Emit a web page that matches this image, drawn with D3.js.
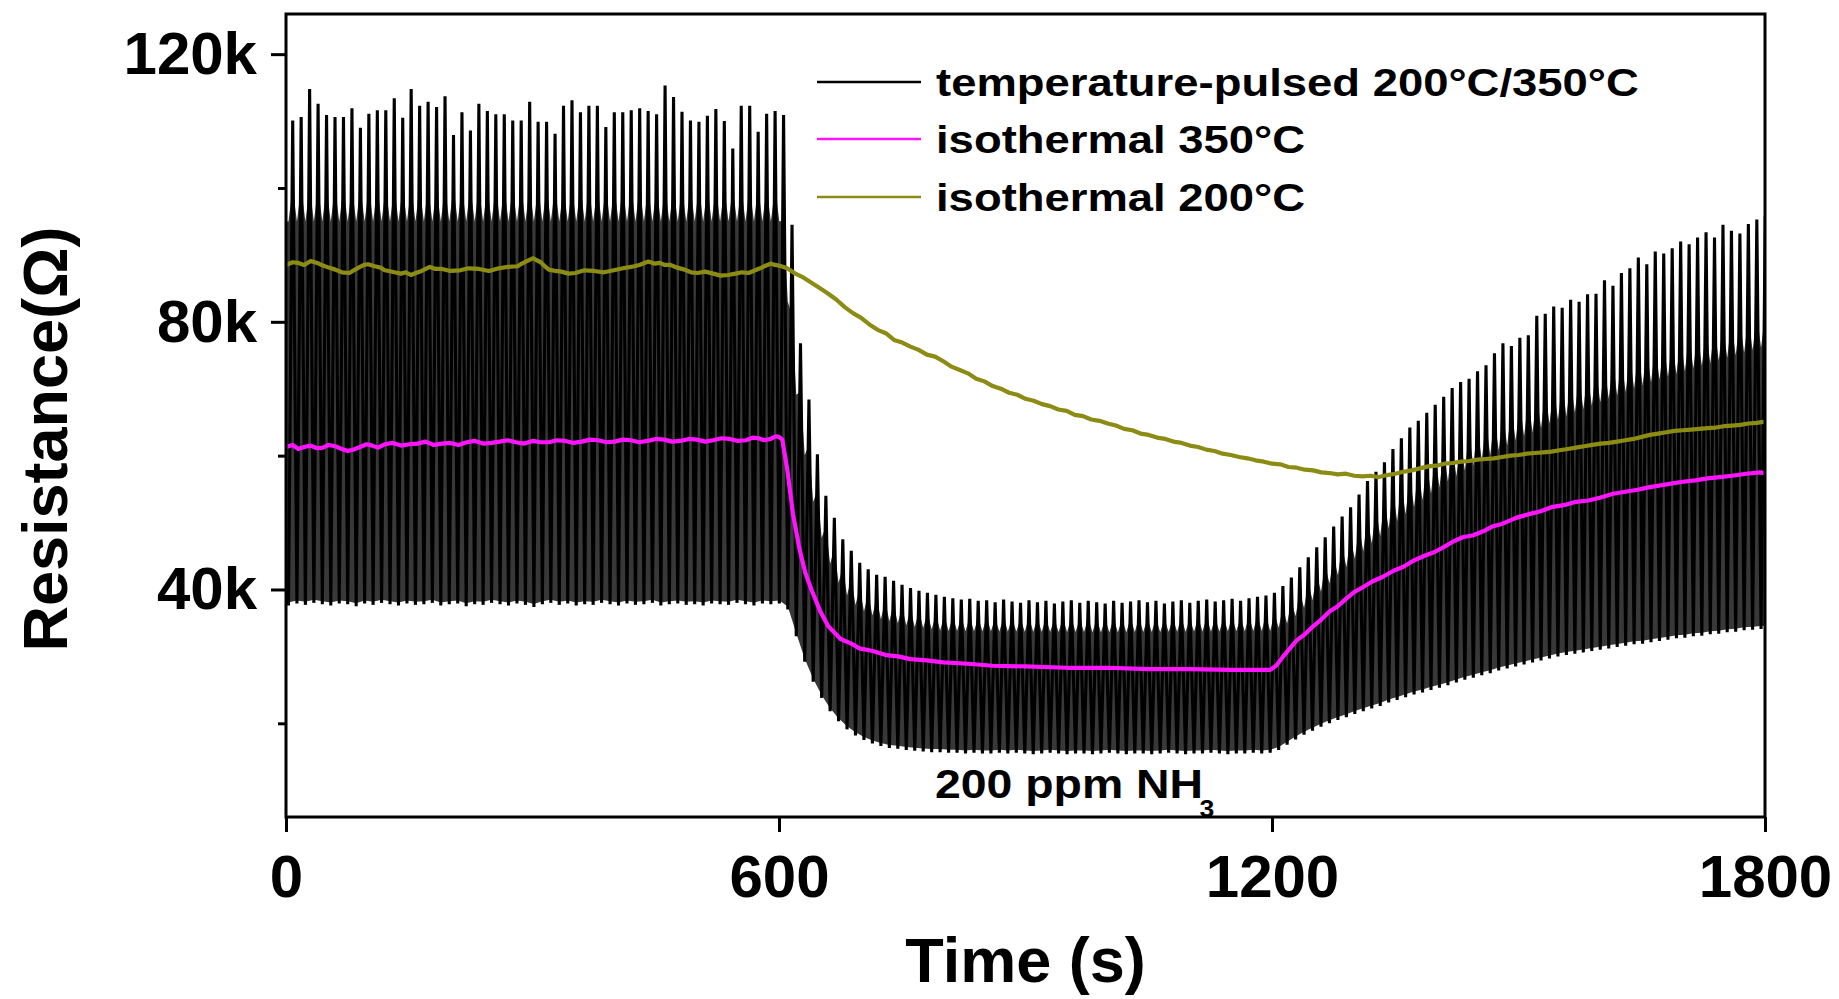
<!DOCTYPE html>
<html>
<head>
<meta charset="utf-8">
<script src="https://cdn.jsdelivr.net/npm/d3@7"></script>
<style>
  html, body { margin: 0; padding: 0; background: #ffffff; }
  svg text { font-family: "Liberation Sans", Arial, Helvetica, sans-serif; font-weight: bold; fill: #000; }
</style>
</head>
<body>
<svg id="chart" width="1839" height="999"></svg>
<script>
// ---------------- data (resistance in kΩ, time in s) ----------------
const xTicks = [0, 600, 1200, 1800];
const yMajorTicks = [40, 80, 120];
const yMinorTicks = [20, 60, 100];
const seriesNames = ["temperature-pulsed 200°C/350°C", "isothermal 350°C", "isothermal 200°C"];
const seriesColors = ["#000000", "#ff14ff", "#8c8c14"];

// temperature-pulsed signal: one trough and one peak per heating cycle
const pulseStart = 3;      // time of first trough (s)
const pulsePeriod = 10.3;  // cycle length (s)
const pulseHigh = [
  110.1, 110.6, 114.8, 112.6, 110.9, 110.6, 110.6, 111.9, 109.0, 111.1,
  111.6, 111.6, 113.4, 110.5, 114.8, 112.3, 112.9, 112.1, 113.7, 107.9,
  111.3, 108.6, 112.6, 111.5, 111.0, 111.0, 110.1, 110.1, 112.9, 109.9,
  109.9, 108.1, 112.3, 113.1, 111.3, 112.3, 112.3, 109.1, 111.3, 111.3,
  111.6, 111.9, 111.5, 111.0, 115.3, 113.6, 111.4, 110.1, 109.9, 110.8,
  111.8, 110.0, 105.9, 112.3, 112.3, 108.4, 111.1, 111.5, 110.9,
  94.5, 76.8, 68.4, 60.2, 54.0, 50.7, 47.5, 45.8, 44.0, 43.0, 42.2, 41.9, 41.3,
  40.7, 40.2, 39.8, 39.5, 39.2, 38.9, 38.7, 38.5, 38.6, 38.3,
  38.4, 38.1, 38.5, 38.2, 38.0, 38.4, 38.1, 38.3, 37.9, 38.2,
  38.4, 38.0, 38.3, 38.1, 37.9, 38.3, 38.0, 38.2, 38.4, 38.1,
  38.3, 37.9, 38.2, 38.4, 38.0, 38.3, 38.5, 38.2, 38.4, 38.6,
  38.3, 38.7, 38.9, 39.1,
  39.5, 40.5, 41.8, 43.3, 44.8, 46.3, 47.8, 49.4, 50.9, 52.3,
  54.2, 56.2, 57.6, 59.0, 61.0, 62.6, 64.2, 65.2, 66.4, 67.6,
  68.8, 70.1, 71.0, 71.5, 72.6, 73.5, 75.3, 76.8, 76.4, 77.6,
  78.0, 80.9, 81.2, 82.3, 82.1, 83.3, 83.0, 84.1, 84.2, 86.2,
  85.4, 87.3, 88.0, 89.6, 88.6, 90.5, 90.2, 91.0, 92.0, 91.6,
  92.6, 93.4, 92.6, 94.5, 93.6, 93.2, 94.6, 95.3, 95.8
];
const pulseLow = [
  37.6, 37.9, 37.7, 38.0, 37.8, 37.6, 37.9, 37.8, 37.5, 37.9,
  37.7, 38.0, 37.8, 37.6, 37.9, 37.7, 37.8, 38.0, 37.6, 37.8,
  37.9, 37.5, 37.8, 37.7, 38.0, 37.8, 37.6, 37.9, 37.7, 37.4,
  37.8, 38.0, 37.7, 37.9, 37.6, 37.8, 37.7, 38.0, 37.8, 37.6,
  37.9, 37.7, 37.8, 38.0, 37.6, 37.8, 37.9, 37.7, 37.8, 37.6,
  37.9, 37.8, 37.7, 38.0, 37.8, 37.6, 37.9, 37.8, 37.9,
  37.0, 33.0, 29.2, 26.2, 23.8, 21.8, 20.3, 19.1, 18.2, 17.5, 17.0, 16.6, 16.3,
  16.2, 16.0, 15.9, 15.8, 15.7, 15.7, 15.6, 15.6, 15.5, 15.6,
  15.5, 15.5, 15.6, 15.5, 15.6, 15.5, 15.4, 15.5, 15.6, 15.5,
  15.4, 15.5, 15.5, 15.4, 15.5, 15.6, 15.5, 15.4, 15.5, 15.5,
  15.4, 15.5, 15.6, 15.5, 15.4, 15.5, 15.5, 15.6, 15.5, 15.4,
  15.5, 15.5, 15.6, 15.5, 15.6,
  16.0, 16.8, 17.6, 18.3, 18.9, 19.5, 20.0, 20.5, 20.9, 21.4,
  21.8, 22.2, 22.6, 23.1, 23.5, 23.9, 24.3, 24.6, 25.0, 25.3,
  25.7, 26.1, 26.5, 26.8, 27.2, 27.5, 27.9, 28.2, 28.5, 28.8,
  29.1, 29.4, 29.7, 30.0, 30.2, 30.4, 30.6, 30.8, 31.0, 31.2,
  31.4, 31.6, 31.8, 31.9, 32.1, 32.3, 32.5, 32.7, 32.8, 33.0,
  33.1, 33.3, 33.4, 33.6, 33.7, 33.9, 34.0, 34.1, 34.2
];
// upper edge of the densely drawn (solid-looking) part of the pulsed trace
const bodyTime = [0, 300, 602, 610, 620, 630, 640, 650, 660, 670, 680, 692, 705, 725, 760, 800,
  1000, 1200, 1220, 1250, 1300, 1350, 1400, 1450, 1500, 1550, 1600, 1650, 1700, 1750, 1806];
const bodyTop = [95, 95, 95, 84, 70, 61, 54, 48.5, 44.5, 41.5, 39.5, 37.8, 36.6, 35.5, 34.5, 33.8,
  33.6, 33.8, 35, 38.5, 44.5, 50, 55, 59, 62.5, 65.5, 68, 70.5, 72.5, 74.5, 76.5];

// isothermal 350 °C  [time, kΩ]
const iso350Points = [
  [0,61.3],[8,61.6],[15,61.0],[22,61.3],[30,61.5],[38,61.1],[45,61.2],[52,61.6],[60,61.4],[68,61.0],[75,60.7],[82,60.9],[90,61.3],[98,61.7],[105,61.5],[112,61.2],[120,61.7],[130,61.9],[140,61.5],[150,61.7],
  [160,61.8],[170,62.1],[180,61.6],[190,61.8],[200,61.9],[210,61.6],[220,62.0],[230,62.2],[240,61.8],[250,61.9],[260,62.1],[270,62.3],[280,62.0],[290,61.8],[300,62.2],[310,62.0],[320,62.0],[330,62.3],[340,62.2],[350,61.9],
  [360,62.1],[370,62.4],[380,62.3],[390,62.0],[400,62.1],[410,62.4],[420,62.3],[430,62.0],[440,62.2],[450,62.5],[460,62.4],[470,62.1],[480,62.2],[490,62.5],[500,62.4],[510,62.1],[520,62.3],[530,62.6],[540,62.5],[550,62.2],
  [560,62.3],[568,62.7],[575,62.6],[582,62.3],[590,62.5],[596,62.9],[600,62.8],[604,62.4],[610,58.0],[617,51.3],[625,46.0],[632,42.5],[640,39.8],
  [650,36.8],[660,34.5],[675,32.6],[688,31.9],[698,31.2],[714,30.8],[730,30.2],[745,30.0],[760,29.6],[780,29.4],[800,29.1],[830,28.9],[860,28.6],[900,28.5],[950,28.3],[1000,28.3],[1050,28.1],[1100,28.1],
  [1150,28.0],[1198,28.0],[1205,28.6],[1215,30.2],[1230,32.4],[1240,33.3],[1250,34.5],[1260,35.5],[1270,36.7],[1280,37.5],[1290,38.6],[1300,39.6],[1310,40.3],[1322,41.2],[1335,41.9],[1348,42.8],
  [1360,43.4],[1372,44.3],[1385,45.0],[1398,45.6],[1410,46.4],[1421,47.2],[1432,47.8],[1445,48.1],[1457,48.7],[1468,49.4],[1480,49.8],[1497,50.7],[1514,51.3],[1527,51.7],[1540,52.3],[1555,52.6],[1570,53.1],[1585,53.3],[1599,53.7],[1615,54.3],
  [1630,54.6],[1645,54.9],[1660,55.3],[1680,55.7],[1700,56.1],[1715,56.3],[1730,56.6],[1745,56.8],[1760,57.0],[1777,57.3],[1794,57.5],[1800,57.4]
];

// isothermal 200 °C  [time, kΩ]
const iso200Points = [
  [0,88.5],[8,88.9],[15,88.8],[22,88.5],[30,89.1],[38,88.8],[45,88.4],[52,88.1],[60,87.8],[68,87.4],[77,87.3],[84,87.8],[90,88.2],[95,88.5],[100,88.6],[108,88.3],[115,88.1],[120,87.7],[125,87.6],[132,87.4],
  [140,87.2],[146,87.4],[152,87.0],[158,87.3],[165,87.6],[170,87.9],[175,88.2],[182,87.9],[190,87.9],[200,87.6],[212,87.7],[222,88.0],[235,87.9],[247,87.6],[259,88.0],[270,88.2],[282,88.3],[287,88.7],[292,89.0],[297,89.3],
  [301,89.5],[305,89.2],[310,88.9],[315,88.3],[320,87.8],[328,87.6],[335,87.5],[344,87.2],[352,87.3],[363,87.7],[375,87.6],[387,87.4],[399,87.7],[410,88.0],[420,88.2],[430,88.5],[441,89.0],[448,88.7],[455,88.8],[461,88.5],
  [468,88.5],[476,88.1],[485,87.8],[493,87.4],[501,87.3],[510,87.5],[520,87.2],[529,86.9],[538,87.0],[547,87.2],[555,87.4],[563,87.3],[571,87.7],[577,88.0],[582,88.3],[586,88.5],[590,88.7],[595,88.5],[600,88.4],
  [610,88.0],[620,87.2],[630,86.6],[640,85.8],[650,85.0],[660,84.2],[670,83.3],[680,82.2],[690,81.3],[700,80.6],
  [710,79.6],[720,78.8],[730,78.3],[740,77.3],[750,76.9],[760,76.3],[770,75.8],[780,75.1],[790,74.8],[800,74.1],
  [810,73.3],[820,72.8],[830,72.3],[840,71.5],[850,71.1],[860,70.4],[870,70.0],[880,69.4],[890,69.1],[900,68.5],
  [910,68.2],[920,67.7],[930,67.4],[940,66.9],[950,66.7],[960,66.1],[970,65.9],[980,65.4],[990,65.2],[1000,64.8],
  [1010,64.5],[1020,64.0],[1030,63.8],[1040,63.3],[1050,63.1],[1060,62.7],[1070,62.5],[1080,62.1],[1090,61.9],[1100,61.5],
  [1110,61.3],[1120,60.9],[1130,60.7],[1140,60.3],[1150,60.1],[1160,59.8],[1170,59.6],[1180,59.3],[1190,59.1],[1200,58.8],
  [1210,58.7],[1220,58.3],[1230,58.2],[1240,57.9],[1250,57.8],[1260,57.5],[1270,57.4],[1280,57.2],[1290,57.3],[1300,57.0],
  [1310,56.9],[1320,57.0],[1330,56.8],[1340,57.1],[1350,57.3],[1360,57.6],[1370,57.8],[1380,58.1],[1390,58.4],[1400,58.5],
  [1410,58.8],[1420,58.9],[1430,59.1],[1440,59.2],[1450,59.4],[1460,59.5],[1470,59.6],[1480,59.8],[1490,60.0],[1500,60.1],
  [1510,60.3],[1520,60.4],[1530,60.5],[1540,60.6],[1550,60.8],[1560,61.0],[1570,61.2],[1580,61.4],[1590,61.6],[1600,61.8],
  [1610,61.9],[1620,62.1],[1630,62.3],[1640,62.5],[1650,62.8],[1660,63.1],[1670,63.3],[1680,63.5],[1690,63.7],[1700,63.8],
  [1710,63.9],[1720,64.0],[1730,64.1],[1740,64.2],[1750,64.4],[1760,64.5],[1770,64.6],[1780,64.8],[1790,64.9],[1800,65.1]
];

// ---------------- layout ----------------
const plot = { left: 286, right: 1765, top: 14, bottom: 817 };
const svg = d3.select("#chart");

const x = d3.scaleLinear().domain([0, 1800]).range([plot.left, plot.right]);
const y = d3.scaleLinear().domain([6, 126]).range([plot.bottom, plot.top]);

svg.append("defs").append("clipPath").attr("id", "plotClip")
  .append("rect")
  .attr("x", plot.left).attr("y", plot.top)
  .attr("width", plot.right - plot.left).attr("height", plot.bottom - plot.top);

const plotG = svg.append("g").attr("clip-path", "url(#plotClip)");

// --- temperature-pulsed trace ---
const pulsePts = [];
pulseLow.forEach((v, i) => {
  pulsePts.push([pulseStart + i * pulsePeriod, v]);
  if (i < pulseHigh.length) pulsePts.push([pulseStart + (i + 0.5) * pulsePeriod, pulseHigh[i]]);
});

// dense part of the trace: top edge follows the body envelope, notched between spikes
const bodyScale = d3.scaleLinear().domain(bodyTime).range(bodyTop).clamp(true);
const teethPx = 3;
const topPts = [[x(0), y(bodyTop[0])]];
pulseLow.forEach((v, i) => {
  const t = pulseStart + i * pulsePeriod;
  topPts.push([x(t), y(bodyScale(t))]);
  if (i < pulseHigh.length) {
    const tp = t + pulsePeriod / 2;
    const yb = y(bodyScale(tp)), yp = y(pulseHigh[i]);
    topPts.push([x(tp), yb - Math.min(34, 0.45 * (yb - yp))]);
  }
});
const botPts = pulseLow.map((v, i) => [x(pulseStart + i * pulsePeriod), y(v) - teethPx]).reverse();
plotG.append("path")
  .attr("d", d3.line()([...topPts, ...botPts, [x(0), y(pulseLow[0]) - teethPx]]) + "Z")
  .attr("fill", "#383838");

const lineTV = d3.line().x(d => x(d[0])).y(d => y(d[1]));

plotG.append("path")
  .attr("d", lineTV(pulsePts))
  .attr("fill", "none")
  .attr("stroke", seriesColors[0])
  .attr("stroke-width", 3.1)
  .attr("stroke-linejoin", "miter");

// --- isothermal traces ---
plotG.append("path")
  .attr("d", lineTV(iso200Points))
  .attr("fill", "none")
  .attr("stroke", seriesColors[2])
  .attr("stroke-width", 4.2)
  .attr("stroke-linejoin", "round");

plotG.append("path")
  .attr("d", lineTV(iso350Points))
  .attr("fill", "none")
  .attr("stroke", seriesColors[1])
  .attr("stroke-width", 4.2)
  .attr("stroke-linejoin", "round");

// ---------------- axes ----------------
function styleAxis(g) {
  g.select(".domain").remove();
  g.selectAll(".tick line").attr("stroke", "#000").attr("stroke-width", 3);
  g.selectAll(".tick text").attr("font-size", 60).attr("fill", "#000")
    .style("font-family", "'Liberation Sans', Arial, sans-serif").style("font-weight", "bold");
}

svg.append("g")
  .attr("transform", `translate(0,${plot.bottom})`)
  .call(d3.axisBottom(x).tickValues(xTicks).tickSize(15).tickSizeOuter(0).tickPadding(22).tickFormat(d3.format("d")))
  .call(styleAxis);

svg.append("g")
  .attr("transform", `translate(${plot.left},0)`)
  .call(d3.axisLeft(y).tickValues(yMajorTicks).tickSize(15).tickSizeOuter(0).tickPadding(14).tickFormat(d => d + "k"))
  .call(styleAxis);

svg.append("g")
  .attr("transform", `translate(${plot.left},0)`)
  .call(d3.axisLeft(y).tickValues(yMinorTicks).tickSize(8).tickSizeOuter(0).tickFormat(""))
  .call(styleAxis);

// frame
svg.append("rect")
  .attr("x", plot.left).attr("y", plot.top)
  .attr("width", plot.right - plot.left).attr("height", plot.bottom - plot.top)
  .attr("fill", "none").attr("stroke", "#000").attr("stroke-width", 3);

// axis titles
svg.append("text")
  .attr("x", (plot.left + plot.right) / 2).attr("y", 982)
  .attr("text-anchor", "middle").attr("font-size", 63)
  .text("Time (s)");

svg.append("text")
  .attr("transform", "translate(67,439) rotate(-90)")
  .attr("text-anchor", "middle").attr("font-size", 63)
  .text("Resistance(Ω)");

// ---------------- legend ----------------
const legendRowsY = [82, 139, 197];
const legend = svg.append("g");
seriesNames.forEach((name, i) => {
  legend.append("line")
    .attr("x1", 817).attr("x2", 921)
    .attr("y1", legendRowsY[i]).attr("y2", legendRowsY[i])
    .attr("stroke", seriesColors[i]).attr("stroke-width", 2.6);
  legend.append("text")
    .attr("transform", `translate(936,${legendRowsY[i] + 13.5}) scale(1.165,1)`)
    .attr("font-size", 39)
    .text(name);
});

// gas annotation
const ann = svg.append("text")
  .attr("transform", "translate(935,798) scale(1.16,1)")
  .attr("font-size", 40);
ann.append("tspan").text("200 ppm NH");
ann.append("tspan").attr("font-size", 23).attr("dx", -3).attr("dy", 19).text("3");
</script>
</body>
</html>
